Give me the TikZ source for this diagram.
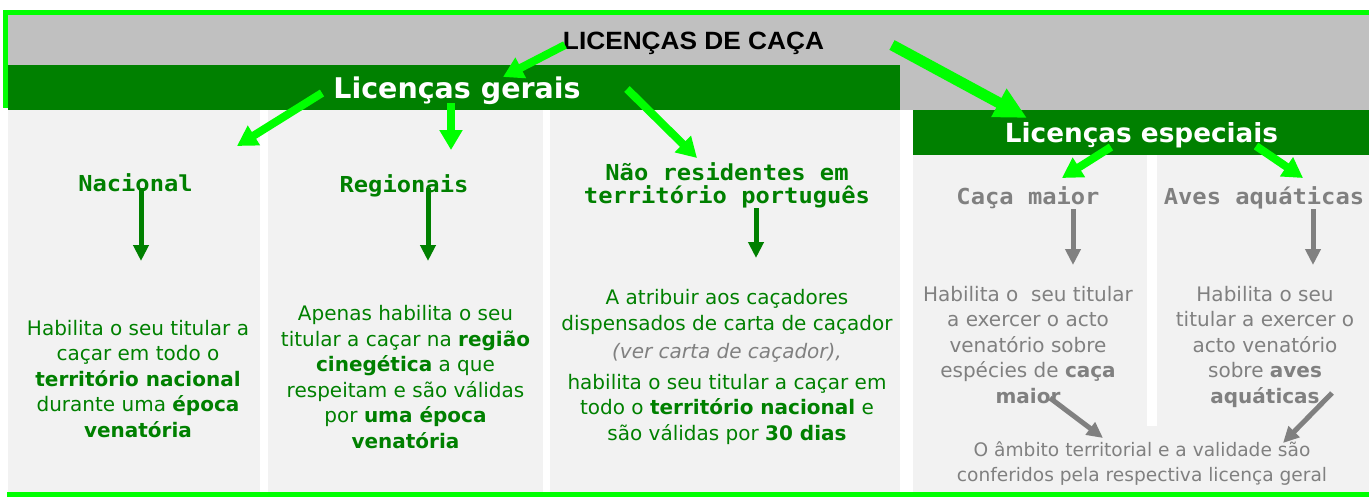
\documentclass[tikz,border=0pt]{standalone}
\usepackage{fontspec}
\usepackage{graphicx}
\usetikzlibrary{arrows.meta}
\newfontfamily\bodyfont{DejaVu Sans}
\newfontfamily\headmono{DejaVu Sans Mono}
\newfontfamily\titlefont{Liberation Sans}
\definecolor{lime}{HTML}{00FF00}
\definecolor{dkgreen}{HTML}{008000}
\definecolor{bandgray}{HTML}{C0C0C0}
\definecolor{panelgray}{HTML}{F2F2F2}
\definecolor{txtgray}{HTML}{808080}
\newcommand{\hwide}[1]{\scalebox{1.08}[1]{#1}}
\begin{document}
\begin{tikzpicture}[x=1pt,y=-1pt,
  body/.style={inner sep=0pt, anchor=base, align=center, font=\bodyfont\fontsize{20}{25.5}\selectfont},
  greentxt/.style={body, text=dkgreen},
  graytxt/.style={body, text=txtgray},
  monohead/.style={inner sep=0pt, anchor=base, align=center, font=\headmono\bfseries\fontsize{22}{23}\selectfont},
  bandhead/.style={inner sep=0pt, anchor=base, text=white},
  titlestyle/.style={inner sep=0pt, anchor=base, text=black, font=\titlefont\bfseries\fontsize{25}{27}\selectfont},
  limebig/.style={draw=lime, line width=11pt, -{Triangle[width=30pt,length=32pt]}},
  limearrow/.style={draw=lime, line width=8pt, -{Triangle[width=22pt,length=20pt]}},
  darkarrow/.style={draw=dkgreen, line width=5pt, -{Triangle[width=15pt,length=16pt]}},
  grayarrow/.style={draw=txtgray, line width=5pt, -{Triangle[width=15pt,length=16pt]}}
]
\useasboundingbox (0,0) rectangle (1369,498);
\fill[white] (0,0) rectangle (1369,498);
% bands
\fill[bandgray] (8,15) rectangle (1369,110);
\fill[dkgreen] (8,65) rectangle (900,110);
\fill[dkgreen] (913,110) rectangle (1369,155);
% panels
\fill[panelgray] (8,110) rectangle (260,492);
\fill[panelgray] (268,110) rectangle (543,492);
\fill[panelgray] (550,110) rectangle (900,492);
\fill[panelgray] (913,155) rectangle (1147,426);
\fill[panelgray] (1157,155) rectangle (1369,426);
\fill[panelgray] (913,426) rectangle (1369,492);
% lime frame
\fill[lime] (3,10) rectangle (8,108);
\fill[lime] (3,10) rectangle (1369,15);
\fill[lime] (7,492) rectangle (1369,497);

% titles
\node[titlestyle] (title) at (693.5,49) {\scalebox{1.05}[1]{LICENÇAS DE CAÇA}};
\node[bandhead, font=\bodyfont\bfseries\fontsize{28.5}{30}\selectfont] (gerais) at (457,98) {Licenças gerais};
\node[bandhead, font=\bodyfont\bfseries\fontsize{26.3}{28}\selectfont] (especiais) at (1141.5,142) {Licenças especiais};

\node[monohead, text=dkgreen] (nac) at (135.5,191) {\hwide{Nacional}};
\node[monohead, text=dkgreen] (reg) at (404,192) {\hwide{Regionais}};
\node[monohead, text=dkgreen] (nres) at (727,203) {\hwide{Não residentes em}\\\hwide{território português}};
\node[monohead, text=txtgray] (cmaior) at (1028,204) {\hwide{Caça maior}};
\node[monohead, text=txtgray] (aves) at (1264,204) {\hwide{Aves aquáticas}};

% body texts (anchor base = baseline of the last line)
\node[greentxt] (t1) at (138,437) {Habilita o seu titular a\\caçar em todo o\\\textbf{território nacional}\\durante uma \textbf{época}\\\textbf{venatória}};
\node[greentxt] (t2) at (405.5,448) {Apenas habilita o seu\\titular a caçar na \textbf{região}\\\textbf{cinegética} a que\\respeitam e são válidas\\por \textbf{uma época}\\\textbf{venatória}};
\node[greentxt] (t3) at (727,440) {A atribuir aos caçadores\\dispensados de carta de caçador\\[2.5pt]{\color{txtgray}\itshape (ver carta de caçador),}\\[5.5pt]habilita o seu titular a caçar em\\todo o \textbf{território nacional} e\\são válidas por \textbf{30 dias}};
\node[graytxt] (t4) at (1028,403) {Habilita o\ \ seu titular\\a exercer o acto\\venatório sobre\\espécies de \textbf{caça}\\\textbf{maior}};
\node[graytxt] (t5) at (1265,403) {Habilita o seu\\titular a exercer o\\acto venatório\\sobre \textbf{aves}\\\textbf{aquáticas}};
\node[graytxt, font=\bodyfont\fontsize{18.6}{25}\selectfont] (t6) at (1142,481) {O âmbito territorial e a validade são\\conferidos pela respectiva licença geral};

% arrow end points
\coordinate (a1s) at (565,45);   \coordinate (a1e) at (503,77);
\coordinate (a2s) at (892,45);   \coordinate (a2e) at (1027,118);
\coordinate (a3s) at (322,93);   \coordinate (a3e) at (237,146);
\coordinate (a4s) at (451,103);  \coordinate (a4e) at (451,150);
\coordinate (a5s) at (627,89);   \coordinate (a5e) at (697,158);
\coordinate (a6s) at (1111,147); \coordinate (a6e) at (1062,178);
\coordinate (a7s) at (1256,146); \coordinate (a7e) at (1303,178);
\coordinate (d1s) at (141,188);  \coordinate (d1e) at (141,261);
\coordinate (d2s) at (428,188);  \coordinate (d2e) at (428,261);
\coordinate (d3s) at (756,208);  \coordinate (d3e) at (756,258);
\coordinate (g1s) at (1073,209); \coordinate (g1e) at (1073,265);
\coordinate (g2s) at (1313,209); \coordinate (g2e) at (1313,265);
\coordinate (g3s) at (1050,398); \coordinate (g3e) at (1103,438);
\coordinate (g4s) at (1332,393); \coordinate (g4e) at (1283,443);

% arrows
\draw[limearrow] (a1s) -- (a1e);
\draw[limebig] (a2s) -- (a2e);
\draw[limearrow] (a3s) -- (a3e);
\draw[limearrow] (a4s) -- (a4e);
\draw[limearrow] (a5s) -- (a5e);
\draw[limearrow] (a6s) -- (a6e);
\draw[limearrow] (a7s) -- (a7e);
\draw[darkarrow] (d1s) -- (d1e);
\draw[darkarrow] (d2s) -- (d2e);
\draw[darkarrow] (d3s) -- (d3e);
\draw[grayarrow] (g1s) -- (g1e);
\draw[grayarrow] (g2s) -- (g2e);
\draw[grayarrow] (g3s) -- (g3e);
\draw[grayarrow] (g4s) -- (g4e);
\end{tikzpicture}
\end{document}
